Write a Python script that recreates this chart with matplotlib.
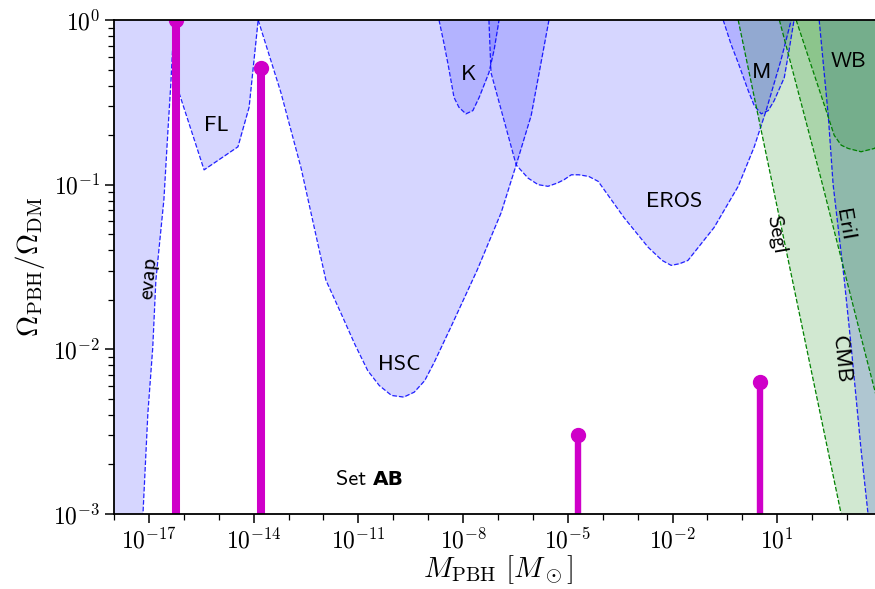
import numpy as np
import matplotlib.pyplot as plt
from matplotlib.ticker import FixedLocator, FuncFormatter, NullFormatter

plt.rcParams['mathtext.fontset'] = 'cm'

# bounds as log10(M/Msun), log10(f)
evap_lm = [-18.0, -17.17, -17.03, -16.89, -16.80, -16.57, -16.46, -16.37, -16.28]
evap_lf = [-4.2, -3.0, -2.39, -1.99, -1.58, -1.09, -0.69, -0.38, 0.0]

fl_lm = [-16.25, -16.14, -15.42, -14.45, -14.13, -13.87]
fl_lf = [0.0, -0.44, -0.91, -0.77, -0.53, 0.0]

hsc_lm = [-13.87, -13.22, -12.64, -11.93, -11.50, -11.10, -10.73, -10.40, -10.05, -9.70,
          -9.40, -9.10, -8.83, -8.34, -7.60, -6.91, -6.48, -6.05, -5.54]
hsc_lf = [0.0, -0.44, -0.90, -1.58, -1.78, -1.97, -2.13, -2.22, -2.28, -2.29,
          -2.26, -2.19, -2.08, -1.86, -1.52, -1.17, -0.88, -0.58, 0.0]

k_lm = [-8.69, -8.55, -8.43, -8.26, -8.12, -7.92, -7.72, -7.54, -7.26, -7.11, -6.97]
k_lf = [0.0, -0.14, -0.27, -0.47, -0.53, -0.57, -0.55, -0.47, -0.32, -0.18, 0.0]

eros_lm = [-7.26, -7.20, -6.48, -6.14, -5.85, -5.57, -5.30, -5.11, -4.90, -4.68, -4.40,
           -4.13, -3.39, -2.70, -2.30, -2.04, -1.80, -1.56, -0.81, -0.12, 0.34, 0.68,
           1.11, 1.40]
eros_lf = [0.0, -0.32, -0.88, -0.96, -1.00, -1.01, -0.99, -0.97, -0.94, -0.94, -0.95,
           -0.98, -1.20, -1.38, -1.46, -1.49, -1.48, -1.46, -1.26, -1.01, -0.77, -0.55,
           -0.24, 0.0]

m_lm = [-0.55, -0.32, -0.12, 0.17, 0.34, 0.54, 0.74, 0.91, 1.20, 1.34, 1.48]
m_lf = [0.0, -0.15, -0.26, -0.43, -0.52, -0.57, -0.55, -0.49, -0.35, -0.18, 0.0]

eri_lm = [2.20, 2.46, 2.60, 2.92, 3.12, 3.40, 3.60, 4.0]
eri_lf = [0.0, -0.58, -1.00, -1.58, -1.99, -2.61, -3.00, -3.8]

segl_lm = [-0.12, 2.83, 4.0]
segl_lf = [0.0, -3.0, -4.2]

cmb_lm = [1.06, 2.26, 3.55, 4.0]
cmb_lf = [0.0, -0.97, -2.05, -2.42]

wb_lm = [1.54, 2.40, 2.63, 2.83, 3.03, 3.40, 3.78, 4.0]
wb_lf = [0.0, -0.55, -0.70, -0.76, -0.78, -0.80, -0.78, -0.74]

# Set AB spikes
spike_m = [10**-16.23, 10**-13.80, 10**-4.72, 10**0.50]
spike_f = [1.0, 0.51, 0.0030, 0.0063]

blue_bounds = [(evap_lm, evap_lf), (fl_lm, fl_lf), (hsc_lm, hsc_lf), (k_lm, k_lf),
               (eros_lm, eros_lf), (m_lm, m_lf), (eri_lm, eri_lf)]
green_bounds = [(segl_lm, segl_lf), (cmb_lm, cmb_lf), (wb_lm, wb_lf)]

fig = plt.figure(figsize=(8.75, 5.89), dpi=100)
ax = fig.add_axes([114 / 875, 75 / 589, 768 / 875, 494 / 589])
ax.set_xscale('log')
ax.set_yscale('log')

# blue fills first, the greens go over them
for lm, lf in blue_bounds:
    ax.fill_between(10**np.array(lm), 10**np.array(lf), 1, color='blue', alpha=0.16, lw=0)
for lm, lf in green_bounds:
    ax.fill_between(10**np.array(lm), 10**np.array(lf), 1, color='green', alpha=0.18, lw=0)
for lm, lf in blue_bounds:
    ax.plot(10**np.array(lm), 10**np.array(lf), color='blue', ls='--', lw=0.9, alpha=0.85)
for lm, lf in green_bounds:
    ax.plot(10**np.array(lm), 10**np.array(lf), color='green', ls='--', lw=0.9)

ax.vlines(spike_m[:2], 1e-3, spike_f[:2], color='#cf00c9', lw=5.8)
ax.vlines(spike_m[2:], 1e-3, spike_f[2:], color='#cf00c9', lw=4.6)
ax.plot(spike_m, spike_f, 'o', color='#cf00c9', ms=10)

lab = dict(family='cmss10', fontsize=16, ha='center', va='center')
ax.text(10**-17.0, 10**-1.57, 'evap', rotation=85, **lab)
ax.text(10**-15.08, 10**-0.64, 'FL', **lab)
ax.text(10**-9.84, 10**-2.09, 'HSC', **lab)
ax.text(10**-7.83, 10**-0.33, 'K', **lab)
ax.text(10**-1.96, 10**-1.105, 'EROS', **lab)
ax.text(10**0.54, 10**-0.32, 'M', **lab)
ax.text(10**3.03, 10**-0.255, 'WB', **lab)
ax.text(10**0.96, 10**-1.30, 'Segl', rotation=-80, **lab)
ax.text(10**2.91, 10**-1.245, 'EriI', rotation=-80, **lab)
ax.text(10**2.80, 10**-2.06, 'CMB', rotation=-84, **lab)

t = ax.text(10**-11.65, 10**-2.79, 'Set ', family='cmss10', fontsize=16, va='center')
ax.annotate('AB', xy=(1, 0), xycoords=t, va='bottom', fontsize=14.5,
            fontweight='bold', family='DejaVu Sans')

ax.set_xlim(1e-18, 1e4)
ax.set_ylim(1e-3, 1)
pow_fmt = FuncFormatter(lambda v, pos: r'$10^{%d}$' % round(np.log10(v)))
ax.xaxis.set_major_locator(FixedLocator(10.0**np.arange(-17, 2, 3)))
ax.xaxis.set_minor_locator(FixedLocator(10.0**np.arange(-18, 5)))
ax.xaxis.set_major_formatter(pow_fmt)
ax.xaxis.set_minor_formatter(NullFormatter())
ax.yaxis.set_major_formatter(pow_fmt)
ax.yaxis.set_minor_formatter(NullFormatter())
ax.tick_params(which='major', direction='out', length=6.5, width=1.1, labelsize=17)
ax.tick_params(which='minor', direction='out', length=4, width=0.9)
for s in ax.spines.values():
    s.set_linewidth(1.3)

ax.set_xlabel(r'$M_{\rm PBH}\ [M_\odot]$', fontsize=21, labelpad=0)
ax.set_ylabel(r'$\Omega_{\rm PBH}/\Omega_{\rm DM}$', fontsize=21)

fig.savefig('out.png', dpi=100)
